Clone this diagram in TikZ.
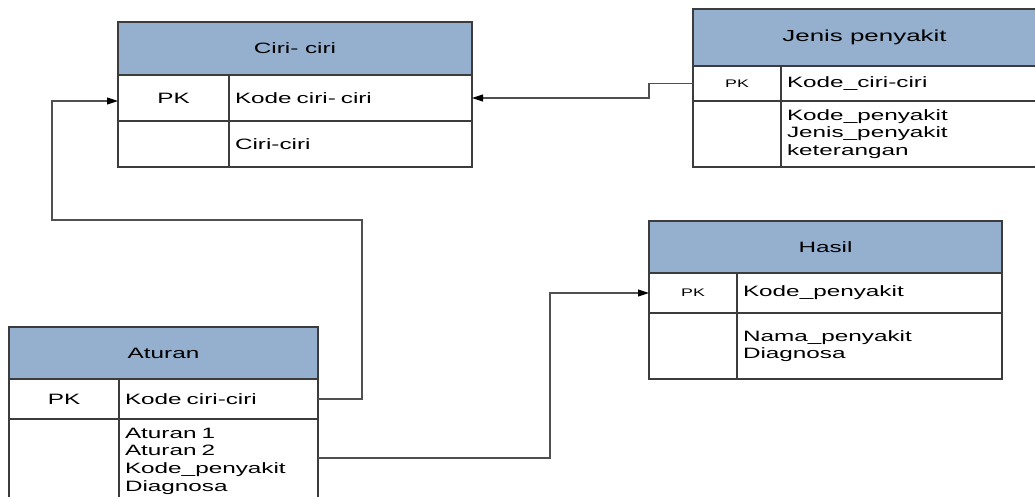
\documentclass[tikz,border=0pt]{standalone}
\usepackage{fontspec}
\setmainfont[FakeStretch=1.62]{Liberation Sans}
\usetikzlibrary{arrows.meta}
\definecolor{hdrblue}{RGB}{149,175,206}
\definecolor{bordercol}{RGB}{60,60,60}
\definecolor{linkcol}{RGB}{80,80,80}
\tikzset{
  tbl/.style={draw=bordercol, line width=1.3pt, inner sep=0pt, outer sep=0pt, anchor=north west, font={\fontsize{15}{17.7}\selectfont}},
  hdr/.style={tbl, fill=hdrblue, align=center},
  keycell/.style={tbl, align=center},
  fld/.style={tbl, align=left, inner xsep=6pt},
  smallpk/.style={font={\fontsize{11}{13}\selectfont}},
  link/.style={draw=linkcol, line width=1.1pt, arrows={-{Triangle[length=11pt,width=7pt,color=black]}}},
}
\begin{document}
\begin{tikzpicture}[x=1pt,y=-1pt]
\clip (0,0) rectangle (1035,497);
\fill[white] (0,0) rectangle (1035,497);

% Ciri- ciri
\node[hdr, minimum width=354pt, minimum height=53pt] (ciriH) at (118,22) {Ciri- ciri};
\node[keycell, minimum width=111pt, minimum height=46pt] (ciriK1) at (118,75) {PK};
\node[fld, text width=231pt, minimum height=46pt] (ciriF1) at (229,75) {Kode ciri- ciri};
\node[keycell, minimum width=111pt, minimum height=46pt] (ciriK2) at (118,121) {};
\node[fld, text width=231pt, minimum height=46pt] (ciriF2) at (229,121) {Ciri-ciri};

% Jenis penyakit
\node[hdr, minimum width=343pt, minimum height=57pt, font={\fontsize{16}{18}\selectfont}] (jenH) at (693,9) {Jenis penyakit};
\node[keycell, smallpk, minimum width=88pt, minimum height=35pt] (jenK1) at (693,66) {PK};
\node[fld, text width=243pt, minimum height=35pt] (jenF1) at (781,66) {Kode\_ciri-ciri};
\node[keycell, minimum width=88pt, minimum height=66pt] (jenK2) at (693,101) {};
\node[fld, text width=243pt, minimum height=66pt] (jenF2) at (781,101) {Kode\_penyakit\\Jenis\_penyakit\\keterangan};

% Hasil
\node[hdr, minimum width=353pt, minimum height=52pt] (hasH) at (649,221) {Hasil};
\node[keycell, smallpk, minimum width=88pt, minimum height=40pt] (hasK1) at (649,273) {PK};
\node[fld, text width=253pt, minimum height=40pt] (hasF1) at (737,273) {Kode\_penyakit};
\node[keycell, minimum width=88pt, minimum height=66pt] (hasK2) at (649,313) {};
\node[fld, text width=253pt, minimum height=66pt] (hasF2) at (737,313) {Nama\_penyakit\\Diagnosa};

% Aturan
\node[hdr, minimum width=309pt, minimum height=52pt] (atH) at (9,327) {Aturan};
\node[keycell, minimum width=110pt, minimum height=40pt] (atK1) at (9,379) {PK};
\node[fld, text width=187pt, minimum height=40pt] (atF1) at (119,379) {Kode ciri-ciri};
\node[keycell, minimum width=110pt, minimum height=84pt] (atK2) at (9,419) {};
\node[fld, text width=187pt, minimum height=84pt] (atF2) at (119,419) {Aturan 1\\Aturan 2\\Kode\_penyakit\\Diagnosa};

% connectors
\coordinate (a1) at (362,399);
\coordinate (a2) at (362,220);
\coordinate (a3) at (52,220);
\draw[link] (atF1.east) -- (a1) -- (a2) -- (a3) |- ([yshift=-3pt]ciriK1.west);
\draw[link] (jenK1.west) -| (649,98) -- (ciriF1.east);
\draw[link] ([yshift=3pt]atF2.east) -| (550,293) -- (hasK1.west);
\end{tikzpicture}
\end{document}
